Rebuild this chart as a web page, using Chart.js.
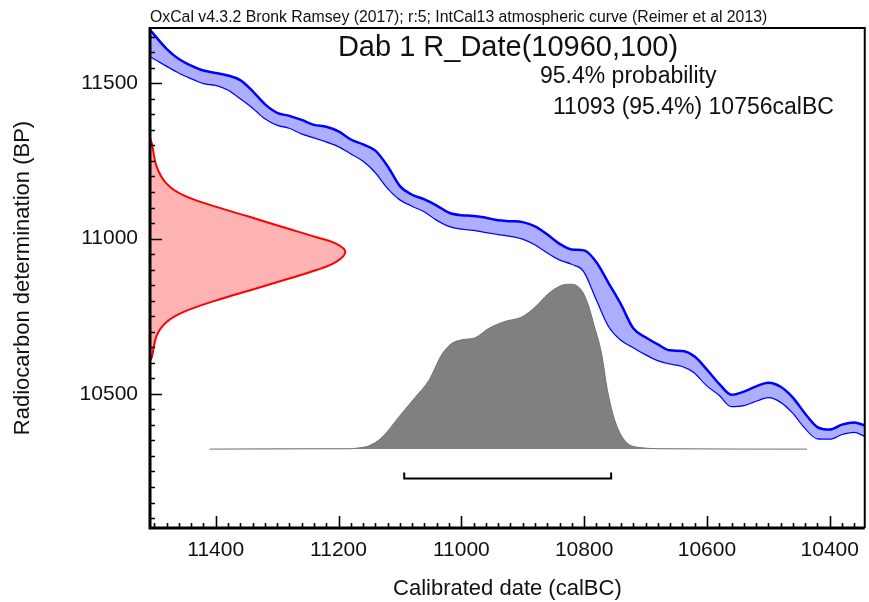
<!DOCTYPE html>
<html>
<head>
<meta charset="utf-8">
<script src="https://cdn.jsdelivr.net/npm/chart.js@4.4.1/dist/chart.umd.min.js"></script>
<style>
  html, body { margin: 0; padding: 0; background: #fff; }
  #wrap { width: 869px; height: 602px; }
</style>
</head>
<body>
<div id="wrap"><canvas id="oxcal__chart"></canvas></div>
<script>
// Curva de calibração (IntCal13), bordas superior e inferior (BP)
const curveYears = [11507, 11500, 11480, 11460, 11440, 11420, 11400, 11380, 11360, 11340,
  11320, 11300, 11280, 11260, 11240, 11220, 11200, 11180, 11160, 11140,
  11120, 11100, 11080, 11060, 11040, 11020, 11000, 10980, 10960, 10940,
  10920, 10900, 10880, 10860, 10840, 10820, 10800, 10780, 10760, 10740,
  10720, 10700, 10680, 10660, 10640, 10620, 10600, 10580, 10560, 10540,
  10520, 10500, 10480, 10460, 10440, 10420, 10400, 10380, 10360, 10343];
const curveUpper = [11672, 11656, 11611, 11578, 11557, 11541, 11533, 11525, 11510, 11475,
  11433, 11405, 11395, 11382, 11366, 11360, 11345, 11319, 11303, 11283,
  11233, 11169, 11141, 11126, 11106, 11083, 11075, 11073, 11067, 11059,
  11056, 11053, 11039, 11013, 10983, 10965, 10962, 10924, 10856, 10788,
  10711, 10682, 10659, 10640, 10638, 10620, 10578, 10532, 10497, 10507,
  10524, 10536, 10523, 10488, 10436, 10393, 10385, 10401, 10408, 10398];
const curveLower = [11588, 11580, 11557, 11535, 11517, 11501, 11495, 11480, 11453, 11423,
  11388, 11367, 11357, 11339, 11326, 11313, 11298, 11275, 11251, 11215,
  11164, 11127, 11106, 11088, 11061, 11041, 11032, 11028, 11021, 11015,
  11009, 11000, 10982, 10956, 10933, 10919, 10895, 10807, 10720, 10675,
  10651, 10628, 10609, 10598, 10590, 10569, 10528, 10498, 10461, 10464,
  10478, 10490, 10475, 10440, 10391, 10357, 10356, 10371, 10378, 10365];

// Data radiocarbono (vermelho), lida de cima para baixo
const radioBP = [11323, 11306, 11231, 11177, 11140, 11102, 11070, 11037, 11005, 10984, 10957,
  10925, 10898, 10865, 10833, 10801, 10763, 10731, 10688, 10618, 10607];
const radioYear = [11507, 11504, 11496, 11480, 11453, 11399, 11345, 11291, 11237, 11204, 11189,
  11204, 11237, 11291, 11345, 11399, 11453, 11480, 11496, 11504, 11507];

// Distribuição calibrada (cinza)
const calYears = [11410, 11231, 11183, 11167, 11150, 11129, 11102, 11075, 11053, 11031,
  11015, 10999, 10977, 10956, 10929, 10902, 10880, 10858, 10837, 10821,
  10804, 10794, 10783, 10772, 10762, 10750, 10734, 10713, 10664, 10437];
const calBP = [10322, 10323, 10323, 10326, 10333, 10360, 10425, 10489, 10543, 10629,
  10663, 10674, 10681, 10710, 10733, 10747, 10779, 10823, 10849, 10853,
  10833, 10790, 10715, 10633, 10511, 10414, 10350, 10328, 10323, 10322];
const calBase = 10322;

// Intervalo 95.4%
const rangeFrom = 11093;
const rangeTo = 10756;

const xTicks = [11400, 11200, 11000, 10800, 10600, 10400];
const yTicks = [10500, 11000, 11500];

const headText = 'OxCal v4.3.2 Bronk Ramsey (2017); r:5; IntCal13 atmospheric curve (Reimer et al 2013)';
const titleText = 'Dab 1 R_Date(10960,100)';
const probText = '95.4% probability';
const rangeText = '11093 (95.4%) 10756calBC';

const FONT = '"Liberation Sans", Arial, sans-serif';

const pts = (xs, ys) => xs.map((v, i) => ({x: v, y: ys[i]}));

// Moldura, ticks menores e textos
const oxcalFrame = {
  id: 'oxcalFrame',
  afterDraw(chart) {
    const {ctx, chartArea: a, scales: {x, y}} = chart;
    ctx.save();
    ctx.strokeStyle = '#000';

    ctx.beginPath();
    for (let v = 10360; v <= 11500; v += 20) {
      const px = Math.round(x.getPixelForValue(v)) + 0.5;
      const len = v % 200 === 0 ? 12 : 5;
      ctx.moveTo(px, a.bottom);
      ctx.lineTo(px, a.bottom - len);
    }
    for (let v = 10100; v <= 11650; v += 50) {
      const py = Math.round(y.getPixelForValue(v)) + 0.5;
      const len = v % 500 === 0 ? 12 : 5;
      ctx.moveTo(a.left, py);
      ctx.lineTo(a.left + len, py);
    }
    ctx.lineWidth = 1.6;
    ctx.stroke();

    // topo e direita
    ctx.lineWidth = 2;
    ctx.beginPath();
    ctx.moveTo(a.left, a.top);
    ctx.lineTo(a.right, a.top);
    ctx.lineTo(a.right, a.bottom);
    ctx.stroke();

    // eixos esquerdo e inferior
    ctx.lineWidth = 3;
    ctx.beginPath();
    ctx.moveTo(a.left, a.top - 1);
    ctx.lineTo(a.left, a.bottom);
    ctx.lineTo(a.right, a.bottom);
    ctx.stroke();

    ctx.fillStyle = '#111';
    ctx.textBaseline = 'middle';
    ctx.textAlign = 'left';
    ctx.font = '15.8px ' + FONT;
    ctx.fillText(headText, a.left, 18);
    ctx.textAlign = 'center';
    ctx.font = '29px ' + FONT;
    ctx.fillText(titleText, 508, 48);
    ctx.textAlign = 'left';
    ctx.font = '23px ' + FONT;
    ctx.fillText(probText, 540, 77);
    ctx.fillText(rangeText, 553, 108);
    ctx.restore();
  }
};

const ctx = document.getElementById('oxcal__chart');

const config = {
  type: 'line',
  data: {
    datasets: [{
      label: 'Range',
      data: pts([rangeFrom, rangeFrom, rangeTo, rangeTo], [10247, 10227, 10227, 10247]),
      borderColor: '#000',
      borderWidth: 2,
      tension: 0,
      fill: false
    }, {
      label: 'Calibrated',
      data: pts(calYears, calBP),
      borderColor: '#707070',
      backgroundColor: '#808080',
      borderWidth: 1,
      cubicInterpolationMode: 'monotone',
      fill: {value: calBase}
    }, {
      label: 'R_Date',
      data: pts(radioYear, radioBP),
      borderColor: '#ff0000',
      backgroundColor: '#ffb3b3',
      borderWidth: 2,
      tension: 0.4,
      fill: 'shape'
    }, {
      label: 'IntCal13 upper',
      data: pts(curveYears, curveUpper),
      borderColor: '#0000ff',
      backgroundColor: '#aeaeff',
      borderWidth: 2.5,
      cubicInterpolationMode: 'monotone',
      fill: '+1'
    }, {
      label: 'IntCal13 lower',
      data: pts(curveYears, curveLower),
      borderColor: '#0000ff',
      borderWidth: 2.5,
      cubicInterpolationMode: 'monotone',
      fill: false
    }]
  },
  options: {
    responsive: true,
    maintainAspectRatio: false,
    animation: false,
    elements: { point: { radius: 0, hoverRadius: 0 } },
    layout: { padding: { top: 28, right: 1, left: 0, bottom: 0 } },
    plugins: { legend: { display: false }, tooltip: { enabled: false } },
    scales: {
      x: {
        type: 'linear',
        reverse: true,
        min: 10343,
        max: 11507,
        grid: { display: false, drawTicks: false },
        border: { display: false },
        afterBuildTicks: (s) => { s.ticks = xTicks.map(v => ({value: v})); },
        afterFit: (s) => { s.height = 74; },
        ticks: {
          color: '#111',
          padding: 10,
          maxRotation: 0,
          font: { family: FONT, size: 21 },
          callback: (v) => String(v)
        },
        title: {
          display: true,
          text: 'Calibrated date (calBC)',
          color: '#111',
          font: { family: FONT, size: 22 },
          padding: { top: 0, bottom: 0 }
        }
      },
      y: {
        type: 'linear',
        min: 10068,
        max: 11678,
        grid: { display: false, drawTicks: false },
        border: { display: false },
        afterBuildTicks: (s) => { s.ticks = yTicks.map(v => ({value: v})); },
        afterFit: (s) => { s.width = 150; },
        ticks: {
          color: '#111',
          padding: 12,
          font: { family: FONT, size: 21 },
          callback: (v) => String(v)
        },
        title: {
          display: true,
          text: 'Radiocarbon determination (BP)',
          color: '#111',
          font: { family: FONT, size: 22 },
          padding: { top: 10, bottom: 0 }
        }
      }
    }
  },
  plugins: [oxcalFrame]
};

const oxcalChart = new Chart(ctx, config);
</script>
</body>
</html>
